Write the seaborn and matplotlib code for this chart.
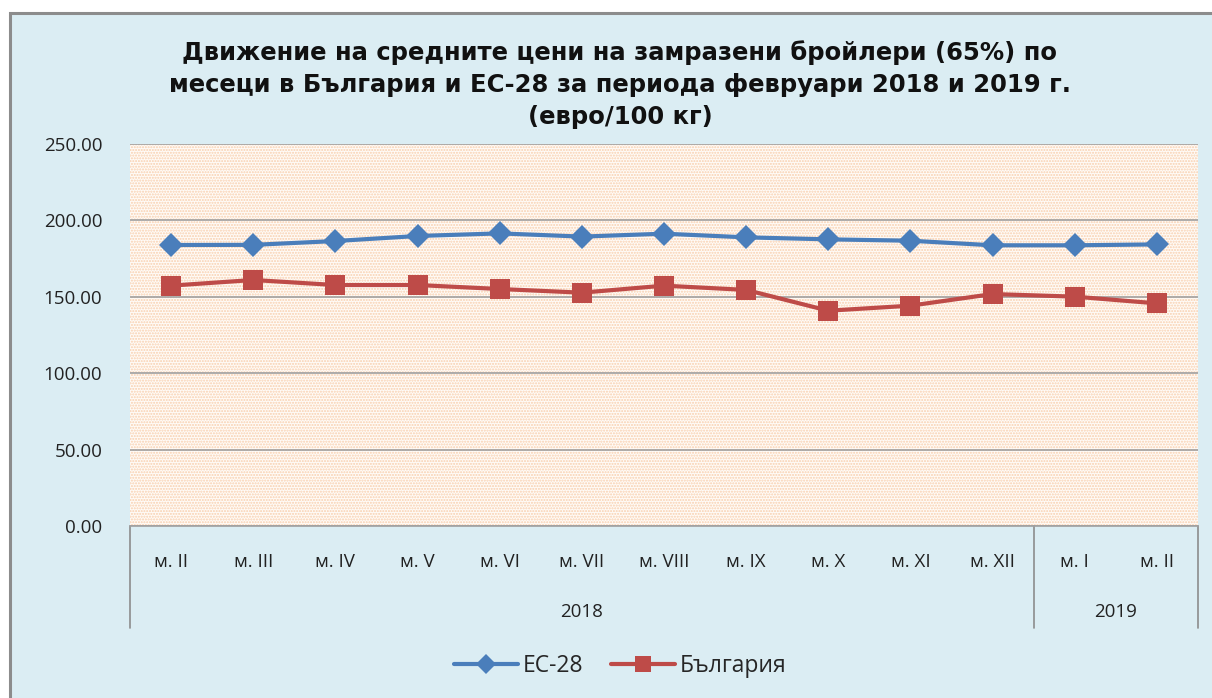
import matplotlib
matplotlib.use("Agg")
import matplotlib.pyplot as plt
import matplotlib.transforms as mtransforms
from matplotlib.patches import Rectangle
from matplotlib.lines import Line2D
import seaborn as sns
import pandas as pd
import numpy as np

months = ["м. II", "м. III", "м. IV", "м. V", "м. VI", "м. VII", "м. VIII",
          "м. IX", "м. X", "м. XI", "м. XII", "м. I", "м. II"]
years = ["2018"] * 11 + ["2019"] * 2
eu28 = [183.9, 184.0, 186.5, 189.8, 191.5, 189.4, 191.3, 188.9, 187.6, 186.7, 183.7, 183.7, 184.3]
bulgaria = [157.3, 161.0, 157.7, 157.7, 155.1, 152.7, 157.3, 154.5, 140.9, 144.2, 151.8, 150.1, 145.7]
series_names = ["ЕС-28", "България"]
yticks = [0, 50, 100, 150, 200, 250]
title = ("Движение на средните цени на замразени бройлери (65%) по\n"
         "месеци в България и ЕС-28 за периода февруари 2018 и 2019 г.\n"
         "(евро/100 кг)")

df = pd.DataFrame({
    "idx": list(range(len(months))) * 2,
    "value": eu28 + bulgaria,
    "series": [series_names[0]] * len(months) + [series_names[1]] * len(months),
})

sns.set_theme(style="white")
plt.rcParams["font.family"] = ["Open Sans", "DejaVu Sans"]
plt.rcParams["hatch.linewidth"] = 1.0

W, H = 1212, 698
fig = plt.figure(figsize=(W / 100, H / 100), dpi=100)
fig.patch.set_facecolor("white")
# chart area background with border (extends past right/bottom edges)
fig.patches.append(Rectangle((10 / W, -0.2), 1.2, 1.2 - 13 / H, transform=fig.transFigure,
                             facecolor="#DBEDF3", edgecolor="#8C8C8C", linewidth=2.2, zorder=-10))

left, right, top, bottom = 130, 1198, 144, 526
ax = fig.add_axes([left / W, 1 - bottom / H, (right - left) / W, (bottom - top) / H])
ax.set_facecolor("#FFFBF7")
ax.add_patch(Rectangle((0, 0), 1, 1, transform=ax.transAxes, facecolor="none",
                       edgecolor="#F8CFAE", hatch="......", linewidth=0, zorder=0))

palette = {series_names[0]: "#4A7EBB", series_names[1]: "#BE4B48"}
sns.lineplot(data=df, x="idx", y="value", hue="series", style="series",
             markers={series_names[0]: "D", series_names[1]: "s"}, dashes=False,
             palette=palette, linewidth=3.0, markersize=15, markeredgewidth=0,
             ax=ax, legend=False, zorder=5)
for ln in ax.lines:
    if ln.get_marker() == "D":
        ln.set_markersize(12.5)

ax.set_xlim(-0.5, len(months) - 0.5)
ax.set_ylim(0, 250)
ax.set_yticks(yticks)
ax.set_yticklabels([f"{v:.2f}" for v in yticks], fontsize=13.5, color="#222222")
ax.yaxis.grid(True, color="#A0A0A0", linewidth=1.2)
ax.set_axisbelow(True)
ax.set_xticks([])
ax.set_xlabel("")
ax.set_ylabel("")
for s in ["left", "right", "top"]:
    ax.spines[s].set_visible(False)
ax.spines["bottom"].set_color("#A0A0A0")
ax.spines["bottom"].set_linewidth(1.2)
ax.tick_params(axis="y", length=0, pad=20)

# multi-level category axis
trans = mtransforms.blended_transform_factory(ax.transData, ax.transAxes)
pxy = 1.0 / (bottom - top)
for i, m in enumerate(months):
    ax.text(i, -(562 - bottom) * pxy, m, transform=trans, ha="center", va="center",
            fontsize=13.5, color="#222222")
groups = {}
for i, y in enumerate(years):
    groups.setdefault(y, []).append(i)
for y, idxs in groups.items():
    ax.text((idxs[0] + idxs[-1]) / 2, -(612 - bottom) * pxy, y, transform=trans,
            ha="center", va="center", fontsize=13.5, color="#222222")
bounds = [-0.5] + [idxs[-1] + 0.5 for idxs in groups.values()]
for b in bounds:
    ax.add_line(Line2D([b, b], [0, -(628 - bottom) * pxy], transform=trans,
                       color="#8C8C8C", linewidth=1.2, clip_on=False))

fig.text(620 / W, 1 - 85 / H, title, ha="center", va="center", fontsize=17.5,
         fontweight="bold", family=["DejaVu Sans"], linespacing=1.42, color="#111111")

handles = [Line2D([], [], color=palette[series_names[0]], marker="D", markersize=10,
                  linewidth=3, markeredgewidth=0),
           Line2D([], [], color=palette[series_names[1]], marker="s", markersize=12,
                  linewidth=3, markeredgewidth=0)]
fig.legend(handles, series_names, loc="center", bbox_to_anchor=(620 / W, 1 - 666 / H),
           ncol=2, frameon=False, fontsize=16.5, handlelength=2.8, columnspacing=1.2,
           handletextpad=0.2)

fig.savefig("out.png", dpi=100, facecolor=fig.get_facecolor())
